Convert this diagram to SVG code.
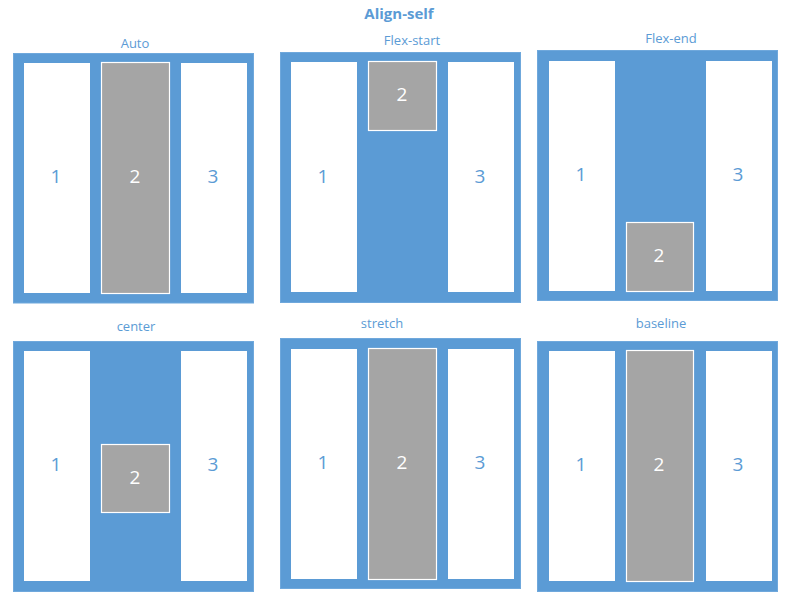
<svg xmlns="http://www.w3.org/2000/svg" width="785" height="597" viewBox="0 0 785 597">
<style>
.frame{fill:#5B9BD5;stroke:#6FA8DC;stroke-width:1}
.item{fill:#FFFFFF}
.sel{fill:#A5A5A5;stroke:#FFFFFF;stroke-width:1.2}
.num{font-family:"Open Sans","Liberation Sans",sans-serif;font-size:19px;fill:#5B9BD5;text-anchor:middle}
.num.w{fill:#FFFFFF}
.lbl{font-family:"Open Sans","Liberation Sans",sans-serif;font-size:13px;fill:#5B9BD5;text-anchor:middle}
.title{font-family:"Open Sans","Liberation Sans",sans-serif;font-size:15px;font-weight:bold;fill:#5B9BD5;text-anchor:middle}
</style>
<text class="title" x="399" y="19">Align-self</text>

<g id="auto">
<text class="lbl" x="135" y="48">Auto</text>
<rect class="frame" x="13.5" y="53.5" width="240" height="249.5"/>
<rect class="item" x="24" y="63" width="66" height="230"/>
<rect class="sel" x="101.5" y="62.5" width="68" height="231"/>
<rect class="item" x="181" y="63" width="66" height="230"/>
<text class="num" x="56" y="183">1</text>
<text class="num w" x="135" y="183">2</text>
<text class="num" x="213" y="183">3</text>
</g>

<g id="flex-start">
<text class="lbl" x="412" y="45">Flex-start</text>
<rect class="frame" x="280.5" y="52.5" width="240" height="250"/>
<rect class="item" x="291" y="62" width="66" height="230"/>
<rect class="sel" x="368.5" y="61.5" width="68" height="69"/>
<rect class="item" x="448" y="62" width="66" height="230"/>
<text class="num" x="323" y="183">1</text>
<text class="num w" x="402" y="101">2</text>
<text class="num" x="480" y="183">3</text>
</g>

<g id="flex-end">
<text class="lbl" x="671" y="43">Flex-end</text>
<rect class="frame" x="537.5" y="50.5" width="240" height="250"/>
<rect class="item" x="549" y="61" width="66" height="230"/>
<rect class="sel" x="626.5" y="222.5" width="67" height="69"/>
<rect class="item" x="706" y="61" width="66" height="230"/>
<text class="num" x="581" y="181">1</text>
<text class="num w" x="659" y="262">2</text>
<text class="num" x="738" y="181">3</text>
</g>

<g id="center">
<text class="lbl" x="136" y="331">center</text>
<rect class="frame" x="13.5" y="341.5" width="240" height="250"/>
<rect class="item" x="24" y="351" width="66" height="230"/>
<rect class="sel" x="101.5" y="444.5" width="68" height="68"/>
<rect class="item" x="181" y="351" width="66" height="230"/>
<text class="num" x="56" y="471">1</text>
<text class="num w" x="135" y="484">2</text>
<text class="num" x="213" y="471">3</text>
</g>

<g id="stretch">
<text class="lbl" x="382" y="328">stretch</text>
<rect class="frame" x="280.5" y="338.5" width="240" height="250"/>
<rect class="item" x="291" y="349" width="66" height="230"/>
<rect class="sel" x="368.5" y="348.5" width="68" height="231"/>
<rect class="item" x="448" y="349" width="66" height="230"/>
<text class="num" x="323" y="469">1</text>
<text class="num w" x="402" y="469">2</text>
<text class="num" x="480" y="469">3</text>
</g>

<g id="baseline">
<text class="lbl" x="661" y="328">baseline</text>
<rect class="frame" x="537.5" y="341.5" width="240" height="250"/>
<rect class="item" x="549" y="351" width="66" height="230"/>
<rect class="sel" x="626.5" y="350.5" width="67" height="231"/>
<rect class="item" x="706" y="351" width="66" height="230"/>
<text class="num" x="581" y="471">1</text>
<text class="num w" x="659" y="471">2</text>
<text class="num" x="738" y="471">3</text>
</g>

<g id="connectors"/>
</svg>
